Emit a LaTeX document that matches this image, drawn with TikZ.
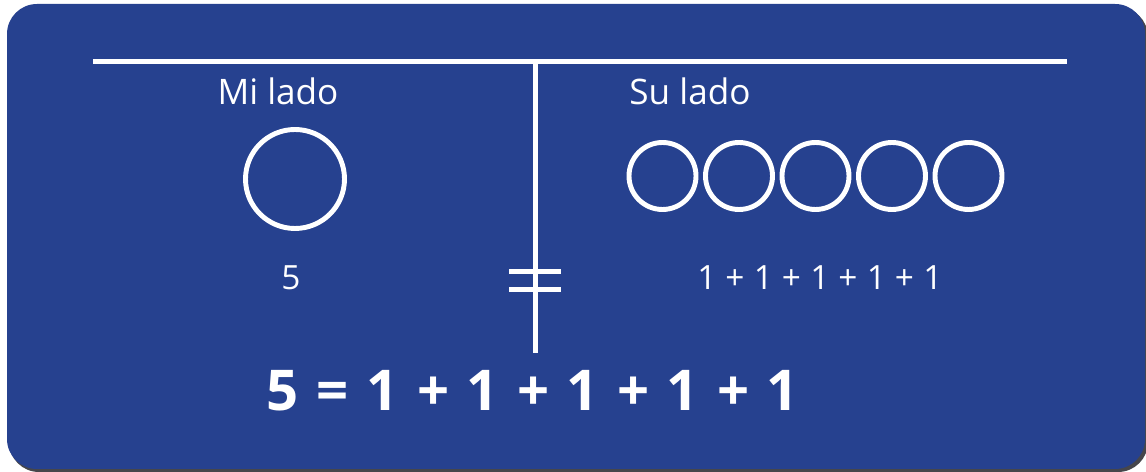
\documentclass[tikz,border=0pt]{standalone}
\usepackage{fontspec}
\setmainfont{Open Sans}
\definecolor{boardblue}{RGB}{38,65,143}
\definecolor{boardshadow}{RGB}{70,70,75}
\begin{document}
\begin{tikzpicture}[x=.02cm, y=-.02cm, line join=round, text=white,
	chalk/.style={draw=white, line width=2.6pt},
	ring/.style={draw=white, line width=2.8pt},
	side/.style={anchor=base, font=\fontsize{20}{24}\selectfont},
	sum/.style={anchor=base, font=\fontsize{19}{23}\selectfont},
	total/.style={anchor=base, font=\bfseries\fontsize{32}{38}\selectfont}]
	\useasboundingbox (0,0) rectangle (1146,472);
	% board
	\fill[boardshadow, rounded corners=.6cm] (9,7) rectangle (1148,472);
	\fill[boardblue, rounded corners=.6cm] (7,4) rectangle (1145,469);
	% T-chart
	\coordinate (tl) at (93,61.5);
	\coordinate (tr) at (1067,61.5);
	\coordinate (top) at (535.5,61.5);
	\coordinate (bot) at (535.5,353);
	\draw[chalk, line cap=butt] (tl)--(tr) (top)--(bot);
	\draw[chalk, line width=2.8pt] (509,271.5)--(561,271.5) (509,289.5)--(561,289.5);
	% labels
	\node[side] (mine) at(278,105){Mi lado};
	\node[side] (theirs) at(690,105){Su lado};
	% circles
	\draw[ring] (295,179) circle (49.5);
	\foreach \i in {0,...,4}
		\draw[ring] (662.5+76.5*\i,176) circle (33.5);
	\node[sum] (five) at(291,290){5};
	\foreach \i in {0,...,4}
		\node[sum] (one\i) at(707+56.5*\i,290){1};
	\foreach \i in {0,...,3}
		\node[sum] (plus\i) at(735+56.5*\i,290){+};
	% equation
	\node[total] (lhs) at(283,411){5};
	\node[total] (eq) at(333,411){=};
	\foreach \i in {0,...,4}
		\node[total] (t\i) at(383+100*\i,411){1};
	\foreach \i in {0,...,3}
		\node[total] (p\i) at(434+100*\i,411){+};
\end{tikzpicture}
\end{document}
